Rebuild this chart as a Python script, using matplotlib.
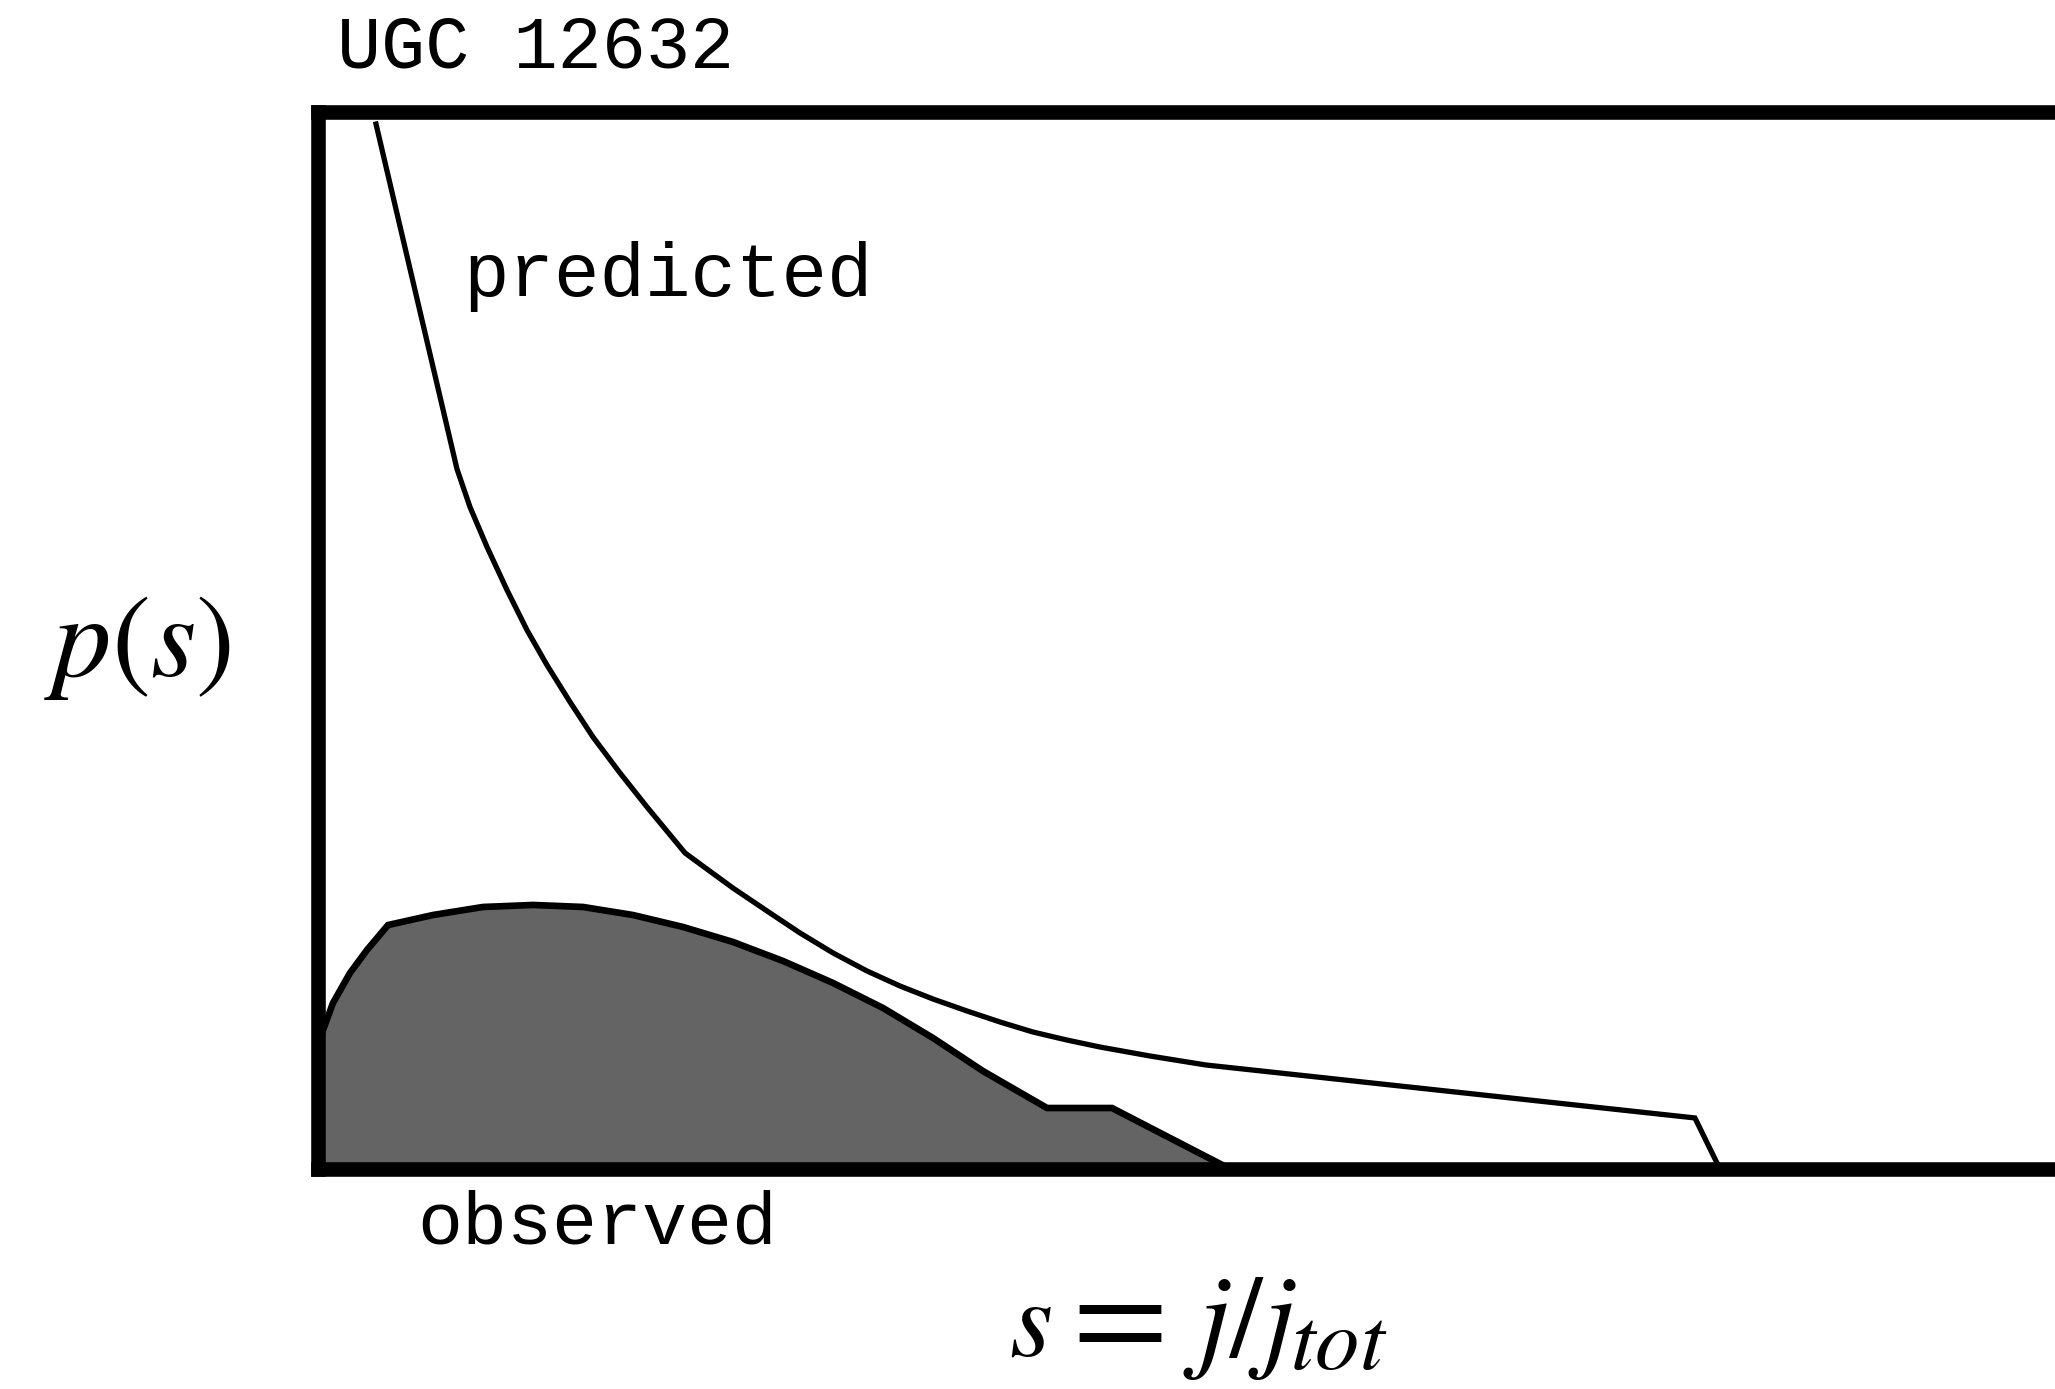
import matplotlib
matplotlib.use("Agg")
import matplotlib.pyplot as plt

plt.rcParams['mathtext.fontset'] = 'stix'

# predicted p(s) (s as fraction of frame width, p of frame height)
s_pred = [0.0334, 0.0800, 0.0875, 0.0973, 0.1088, 0.1203, 0.1318, 0.1451,
          0.1583, 0.1739, 0.1894, 0.2113, 0.2199, 0.2389, 0.2585, 0.2775,
          0.2965, 0.3161, 0.3351, 0.3541, 0.3736, 0.3926, 0.4116, 0.4312,
          0.4502, 0.4790, 0.5112, 0.7927, 0.8071]
p_pred = [0.9886, 0.6623, 0.6263, 0.5885, 0.5478, 0.5099, 0.4768, 0.4418,
          0.4087, 0.3746, 0.3425, 0.2990, 0.2886, 0.2658, 0.2441, 0.2233,
          0.2044, 0.1873, 0.1731, 0.1608, 0.1495, 0.1391, 0.1296, 0.1220,
          0.1154, 0.1069, 0.0984, 0.0483, 0.0]

# observed p(s)
s_obs = [0.0, 0.0029, 0.0086, 0.0184, 0.0282, 0.0403, 0.0662, 0.0950, 0.1238,
         0.1526, 0.1813, 0.2101, 0.2389, 0.2677, 0.2965, 0.3253, 0.3541,
         0.3828, 0.4197, 0.4571, 0.5251]
p_obs = [0.120, 0.1315, 0.1570, 0.1854, 0.2072, 0.2308, 0.2403, 0.2479, 0.2498,
         0.2479, 0.2403, 0.2290, 0.2148, 0.1968, 0.1760, 0.1523, 0.1239,
         0.0927, 0.0577, 0.0577, 0.0]

W, H = 2055, 1389
fig = plt.figure(figsize=(W / 100, H / 100), dpi=100)
fig.patch.set_facecolor('white')

# frame: left border ~318px, top ~112px, bottom ~1169px, open past the right edge
ax = fig.add_axes([318 / W, 1 - 1169 / H, (W - 318) / W, (1169 - 112) / H])
ax.set_xlim(0, 1)
ax.set_ylim(0, 1)
for side in ['left', 'top', 'bottom']:
    ax.spines[side].set_linewidth(10.5)
    ax.spines[side].set_color('black')
    ax.spines[side].set_capstyle('projecting')
ax.spines['right'].set_visible(False)
ax.set_xticks([])
ax.set_yticks([])

ax.fill_between(s_obs, p_obs, 0, color='#646464', lw=0, zorder=2)
ax.plot(s_obs, p_obs, color='black', lw=4.8, solid_joinstyle='miter', zorder=3)
ax.plot(s_pred, p_pred, color='black', lw=3.8, solid_joinstyle='miter', zorder=3)

mono = 'Liberation Mono'
ax.text((463 - 318) / 1737, (1169 - 296) / 1057, 'predicted', family=mono,
        fontsize=54.5, va='baseline')
ax.text((417 - 318) / 1737, (1169 - 1243) / 1057, 'observed', family=mono,
        fontsize=54, va='baseline', clip_on=False)
fig.text(337 / W, 1 - 68 / H, 'UGC 12632', family=mono, fontsize=53,
         va='baseline')

fig.text(44 / W, 1 - 676 / H, r'$p(s)$', fontsize=84, va='baseline')

# x label built in pieces to follow the spacing of the original
xl_s = fig.text(1009 / W, 1 - 1356 / H, r'$s$', fontsize=80, va='baseline')
xl_eq = fig.text(1052 / W, 1 - 1357 / H, r'$=$', fontsize=100, va='baseline')
xl_j = fig.text(1183 / W, 1 - 1356 / H, r'$j/j$', fontsize=84, va='baseline')
xl_tot = fig.text(1290 / W, 1 - 1381 / H, r'$tot$', fontsize=64,
                  va='baseline')

# keep the low pieces inside the canvas
fig.canvas.draw()
renderer = fig.canvas.get_renderer()
for t in [xl_s, xl_eq, xl_j, xl_tot]:
    bb = t.get_window_extent(renderer)
    if bb.y0 < 1:
        x, y = t.get_position()
        t.set_position((x, y + (1 - bb.y0) / H))

fig.savefig('out.png', dpi=100)
